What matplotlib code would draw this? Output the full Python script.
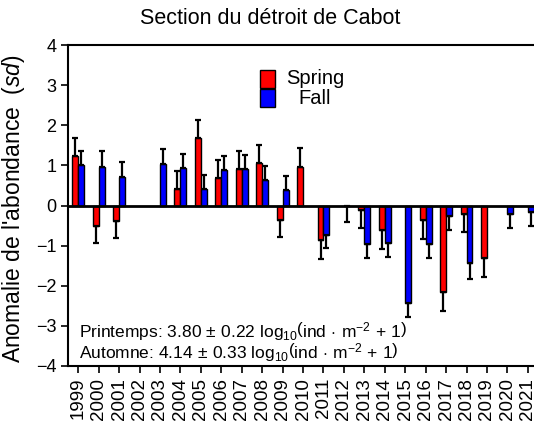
import numpy as np
import matplotlib
matplotlib.use("Agg")
import matplotlib.pyplot as plt
from matplotlib.patches import Rectangle

plt.rcParams['font.family'] = ['Liberation Sans', 'DejaVu Sans']
plt.rcParams['mathtext.fontset'] = 'custom'
plt.rcParams['mathtext.rm'] = 'Liberation Sans'
plt.rcParams['mathtext.it'] = 'Liberation Sans:italic'

# anomalies d'abondance (sd) et erreurs
years = list(range(1999, 2022))
nan = np.nan
spring = [1.23, -0.51, -0.39, nan, nan, 0.41, 1.67, 0.68, 0.91, 1.05, -0.36, 0.96,
          -0.86, nan, -0.10, -0.61, nan, -0.37, -2.16, -0.22, -1.31, nan, nan]
spring_err = [0.45, 0.43, 0.43, nan, nan, 0.46, 0.45, 0.46, 0.46, 0.46, 0.42, 0.47,
              0.47, nan, 0.46, 0.47, nan, 0.47, 0.46, 0.45, 0.46, nan, nan]
fall = [1.02, 0.97, 0.72, nan, 1.04, 0.94, 0.41, 0.88, 0.92, 0.64, 0.38, nan,
        -0.74, -0.02, -0.96, -0.94, -2.43, -0.96, -0.26, -1.44, nan, -0.20, -0.16]
fall_err = [0.35, 0.39, 0.36, nan, 0.37, 0.34, 0.35, 0.35, 0.35, 0.34, 0.35, nan,
            0.33, 0.38, 0.36, 0.34, 0.34, 0.34, 0.34, 0.38, nan, 0.36, 0.35]

x = np.array(years, dtype=float)
w = 0.29

fig = plt.figure(figsize=(5.34, 4.24), dpi=100)
ax = fig.add_axes([68/534, 1 - 366/424, 1 - 68/534, (366 - 45)/424])


def one_sided(vals, errs):
    # barre d'erreur seulement du côté de la barre
    v = np.array(vals, dtype=float)
    e = np.array(errs, dtype=float)
    lo = np.where(v < 0, e, 0)
    hi = np.where(v >= 0, e, 0)
    return np.vstack([lo, hi])


for vals, errs, off, col in [(spring, spring_err, -w/2, '#ff0000'),
                             (fall, fall_err, w/2, '#0000ff')]:
    v = np.array(vals, dtype=float)
    ok = ~np.isnan(v)
    ax.bar(x[ok] + off, v[ok], width=w, color=col, edgecolor='black', linewidth=1.0, zorder=2)
    ax.errorbar(x[ok] + off, v[ok], yerr=one_sided(vals, errs)[:, ok], fmt='none',
                ecolor='black', elinewidth=1.6, capsize=2.5, capthick=1.6, zorder=3)

ax.axhline(0, color='black', linewidth=2, zorder=4)

ax.set_xlim(1998.5, 2021.3)
ax.set_ylim(-4, 4)
ax.set_yticks(range(-4, 5))
ax.set_xticks(years)
ax.set_xticklabels([str(y) for y in years], rotation=90, fontsize=13.5)
ax.tick_params(axis='y', labelsize=13, length=5, width=1.2)
ax.tick_params(axis='x', length=5, width=1.2)
ax.spines['right'].set_visible(False)
for s in ['left', 'top', 'bottom']:
    ax.spines[s].set_linewidth(1.5)

ax.set_ylabel(r"Anomalie de l'abondance  ($\mathit{sd}$)", fontsize=16.5)
ax.yaxis.set_label_coords(-0.087, 0.49)
fig.text(270/534, 1 - 18/424, "Section du détroit de Cabot", ha='center', va='center', fontsize=15.5)

# légende : carrés de couleur et libellés centrés
for yk, col, lab in [(70, '#ff0000', 'Spring'), (89, '#0000ff', 'Fall')]:
    fig.patches.append(Rectangle((260/534, 1 - (yk + 18)/424), 15/534, 18/424,
                                 transform=fig.transFigure, facecolor=col,
                                 edgecolor='black', linewidth=1.0))
    fig.text(315/534, 1 - (yk + 9)/424, lab, ha='center', va='center', fontsize=14.5)

unit = r"$\mathrm{log}_{10}\left(\mathrm{ind}\,\cdot\,\mathrm{m}^{-2}\,+\,1\right)$"
ax.text(0.023, 0.087, r"Printemps: 3.80$\,\pm\,$0.22 " + unit,
        transform=ax.transAxes, fontsize=12.5, va='baseline')
ax.text(0.023, 0.022, r"Automne: 4.14$\,\pm\,$0.33 " + unit,
        transform=ax.transAxes, fontsize=12.5, va='baseline')

fig.savefig("out.png", dpi=100)
